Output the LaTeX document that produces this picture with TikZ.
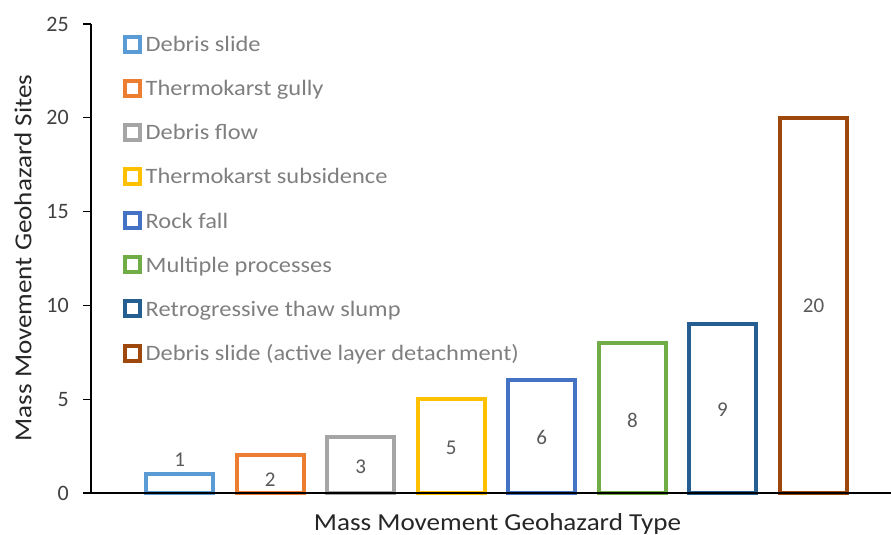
\documentclass[tikz,border=0pt]{standalone}
\usepackage{fontspec}
\setmainfont{Carlito}
\newfontfamily\wideface[FakeStretch=1.11]{Carlito}
\definecolor{sBlue}{HTML}{5B9BD5}
\definecolor{sOrange}{HTML}{ED7D31}
\definecolor{sGray}{HTML}{A5A5A5}
\definecolor{sGold}{HTML}{FFC000}
\definecolor{sRoyal}{HTML}{4472C4}
\definecolor{sGreen}{HTML}{70AD47}
\definecolor{sNavy}{HTML}{255E91}
\definecolor{sBrown}{HTML}{9E480E}
\definecolor{tickText}{HTML}{404040}
\definecolor{legText}{HTML}{7F7F7F}
\definecolor{valText}{HTML}{595959}
\definecolor{titleText}{HTML}{262626}
\begin{document}
\begin{tikzpicture}[x=1pt,y=-1pt,
  axisline/.style={line width=1.3pt,black},
  ticklabel/.style={font=\fontsize{22}{26}\selectfont,text=tickText,anchor=east,inner sep=0pt},
  barbox/.style={line width=4pt},
  vallabel/.style={font=\fontsize{21}{25}\selectfont,text=valText,inner sep=0pt},
  legbox/.style={line width=4pt,fill=white},
  legtext/.style={font=\wideface\fontsize{22}{26}\selectfont,text=legText,anchor=base west,inner sep=0pt},
  axistitle/.style={font=\wideface\fontsize{24.4}{29}\selectfont,text=titleText,inner sep=0pt}]
\useasboundingbox (0,0) rectangle (891,535);

% bars: centre / value / colour / label height / name
\foreach \c/\v/\col/\ly/\nm in {179.6/1/sBlue/459.5/a,270.3/2/sOrange/479.5/b,360.6/3/sGray/467/c,451.3/5/sGold/447.5/d,541.7/6/sRoyal/437.3/e,632.4/8/sGreen/420/f,722.5/9/sNavy/410/g,813.5/20/sBrown/305.5/h}{
  \draw[barbox,draw=\col] (\c-33.3,493) rectangle (\c+33.3,493-\v*18.76);
  \node[vallabel] (val\nm) at (\c,\ly) {\v};
}

% axes
\coordinate (ytop) at (91,24);
\coordinate (orig) at (91,493);
\coordinate (xend) at (891,493);
\draw[axisline] (ytop) -- (orig) -- (xend);
\foreach \t in {0,5,10,15,20,25}{
  \draw[axisline] (83,493-\t*18.76) -- (91,493-\t*18.76);
  \node[ticklabel] (tick\t) at (69,493-\t*18.76) {\t};
}

% legend
\foreach \i/\col/\txt in {0/sBlue/Debris slide,1/sOrange/Thermokarst gully,2/sGray/Debris flow,3/sGold/Thermokarst subsidence,4/sRoyal/Rock fall,5/sGreen/Multiple processes,6/sNavy/Retrogressive thaw slump,7/sBrown/Debris slide (active layer detachment)}{
  \draw[legbox,draw=\col] (124.7,36.8+44.1*\i) rectangle (139.7,51.8+44.1*\i);
  \node[legtext] (leg\i) at (145.5,51.6+44.1*\i) {\txt};
}

% axis titles
\node[axistitle,anchor=base] (xtitle) at (497.5,530) {Mass Movement Geohazard Type};
\node[axistitle,rotate=90] (ytitle) at (22.9,258) {Mass Movement Geohazard Sites};
\end{tikzpicture}
\end{document}
